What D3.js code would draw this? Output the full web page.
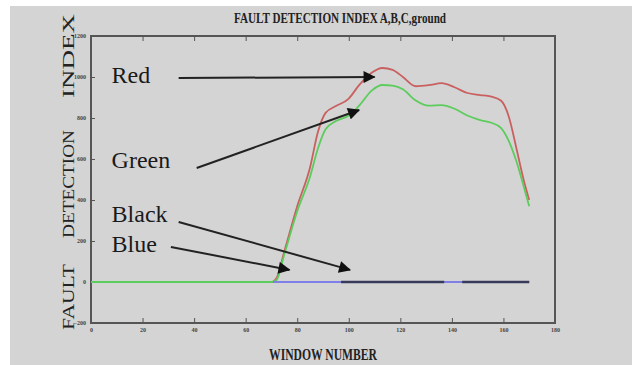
<!DOCTYPE html>
<html>
<head>
<meta charset="utf-8">
<script src="https://cdn.jsdelivr.net/npm/d3@7"></script>
<style>
  body { margin: 0; background: #fff; }
  svg { display: block; font-family: "Liberation Serif", "Times New Roman", serif; }
</style>
</head>
<body>
<div id="chart"></div>
<script>
// window numbers shared by the red and green indices
const windows = [0, 20, 40, 60, 70, 72, 75, 80, 85, 88, 91, 95, 100, 104, 109, 113, 117, 121, 126, 131, 136, 141, 146, 151, 155, 159, 162, 165, 168, 170]
const redValues = [0, 0, 0, 0, 0, 20, 150, 370, 560, 730, 825, 858, 895, 960, 1022, 1044, 1035, 1000, 955, 960, 970, 950, 922, 912, 905, 885, 810, 654, 490, 400]
const greenValues = [0, 0, 0, 0, 0, 10, 135, 345, 515, 650, 745, 785, 812, 860, 935, 961, 958, 940, 885, 860, 863, 845, 812, 790, 778, 752, 690, 590, 460, 370]
const blueWindows = [70.6, 170]
const blueValues = [0, 0]
const blackWindows = [97, 137, 140, 144, 170]
const blackValues = [0, 0, null, 0, 0]

const xTicks = [0, 20, 40, 60, 80, 100, 120, 140, 160, 180]
const yTicks = [-200, 0, 200, 400, 600, 800, 1000, 1200]

// annotation labels and arrows, in data units (window, index)
const labels = ['Red', 'Green', 'Black', 'Blue']
const labelAt = [[8, 971], [8, 556], [8, 293], [8, 146]]
const arrowFrom = [[34, 995], [41, 556], [34, 293], [31, 171]]
const arrowTo = [[110, 1000], [104, 839], [100.5, 59], [77, 59]]

const width = 632
const height = 365
const margin = {top: 36, right: 77, bottom: 42, left: 91}

const svg = d3.select('#chart').append('svg')
  .attr('width', width)
  .attr('height', height)

svg.append('rect')
  .attr('x', 10).attr('y', 6)
  .attr('width', width - 10).attr('height', height - 6)
  .attr('fill', '#d4d4d4')

const x = d3.scaleLinear().domain([0, 180]).range([margin.left, width - margin.right])
const y = d3.scaleLinear().domain([-200, 1200]).range([height - margin.bottom, margin.top])

const axisColor = '#555'

// frame
svg.append('rect')
  .attr('x', x(0)).attr('y', y(1200))
  .attr('width', x(180) - x(0)).attr('height', y(-200) - y(1200))
  .attr('fill', 'none')
  .attr('stroke', axisColor)
  .attr('stroke-width', 2)

const styleAxis = (g) => {
  g.select('.domain').remove()
  g.selectAll('line').attr('stroke', axisColor).attr('stroke-width', 1)
  g.selectAll('text')
    .attr('fill', '#444')
    .style('font-size', '6px')
    .style('font-weight', 'bold')
    .style('font-family', '"Liberation Serif", serif')
}

const fmt = d3.format('d')

svg.append('g')
  .attr('transform', `translate(0,${y(-200)})`)
  .call(d3.axisBottom(x).tickValues(xTicks).tickFormat(fmt).tickSizeInner(-5).tickSizeOuter(0).tickPadding(5))
  .call(styleAxis)

svg.append('g')
  .attr('transform', `translate(0,${y(1200)})`)
  .call(d3.axisTop(x).tickValues(xTicks.slice(1, -1)).tickSizeInner(-5).tickSizeOuter(0).tickFormat(''))
  .call(styleAxis)

svg.append('g')
  .attr('transform', `translate(${x(0)},0)`)
  .call(d3.axisLeft(y).tickValues(yTicks).tickFormat(fmt).tickSizeInner(-4).tickSizeOuter(0).tickPadding(5))
  .call(styleAxis)

// series
const line = (xs, vs) => d3.line()
  .defined((d, i) => vs[i] != null)
  .x((d, i) => x(xs[i]))
  .y((d, i) => y(vs[i]))
  .curve(d3.curveMonotoneX)(xs)

const series = [
  {xs: windows, vs: redValues, color: '#c96060', w: 1.8},
  {xs: windows, vs: greenValues, color: '#5ccc5c', w: 1.8},
  {xs: blueWindows, vs: blueValues, color: '#7f7fe8', w: 2.2},
  {xs: blackWindows, vs: blackValues, color: '#383a5a', w: 2.4}
]

svg.selectAll('.series')
  .data(series)
  .enter()
  .append('path')
    .attr('class', 'series')
    .attr('fill', 'none')
    .attr('stroke', d => d.color)
    .attr('stroke-width', d => d.w)
    .attr('stroke-linejoin', 'round')
    .attr('d', d => line(d.xs, d.vs))

// titles
svg.append('text')
  .attr('x', 340).attr('y', 23)
  .attr('text-anchor', 'middle')
  .attr('textLength', 212)
  .attr('lengthAdjust', 'spacingAndGlyphs')
  .style('font-size', '15px')
  .style('font-weight', 'bold')
  .attr('fill', '#222')
  .text('FAULT DETECTION INDEX  A,B,C,ground')

svg.append('text')
  .attr('x', (x(0) + x(180)) / 2).attr('y', 360)
  .attr('text-anchor', 'middle')
  .attr('textLength', 108)
  .attr('lengthAdjust', 'spacingAndGlyphs')
  .style('font-size', '16px')
  .style('font-weight', 'bold')
  .attr('fill', '#222')
  .text('WINDOW NUMBER')

const yWords = [['FAULT', 297, 66], ['DETECTION', 184, 108], ['INDEX', 56, 84]]
yWords.forEach(([word, cy, len]) => {
  svg.append('text')
    .attr('transform', `translate(74,${cy}) rotate(-90)`)
    .attr('text-anchor', 'middle')
    .attr('textLength', len)
    .attr('lengthAdjust', 'spacingAndGlyphs')
    .style('font-size', '16px')
    .attr('fill', '#222')
    .text(word)
})

// annotations
svg.append('defs').append('marker')
  .attr('id', 'head')
  .attr('viewBox', '0 0 12 12')
  .attr('refX', 11).attr('refY', 6)
  .attr('markerWidth', 13).attr('markerHeight', 12)
  .attr('markerUnits', 'userSpaceOnUse')
  .attr('orient', 'auto')
  .append('path')
    .attr('d', 'M0,0L12,6L0,12Z')
    .attr('fill', '#111')

labels.forEach((label, i) => {
  svg.append('text')
    .attr('x', x(labelAt[i][0])).attr('y', y(labelAt[i][1]))
    .style('font-size', '24px')
    .attr('fill', '#1a1a1a')
    .text(label)
  svg.append('line')
    .attr('x1', x(arrowFrom[i][0])).attr('y1', y(arrowFrom[i][1]))
    .attr('x2', x(arrowTo[i][0])).attr('y2', y(arrowTo[i][1]))
    .attr('stroke', '#222')
    .attr('stroke-width', 2)
    .attr('marker-end', 'url(#head)')
})
</script>
</body>
</html>
